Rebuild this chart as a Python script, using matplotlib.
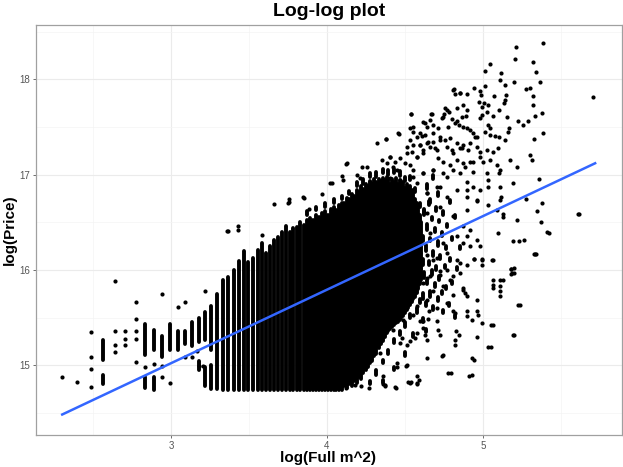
import numpy as np
import matplotlib
matplotlib.use("Agg")
from matplotlib import pyplot as plt

plt.rcParams['font.family'] = ['Liberation Sans', 'DejaVu Sans']

# vertical runs of stacked points: floor area (m^2), lowest and highest log(price)
run_area = [13, 13, 17, 17, 18, 18, 19, 20, 21, 22, 23, 24, 24, 25, 25, 26, 26,
            27, 28, 29, 30, 31, 32, 33, 34, 35, 36, 37, 38, 39, 40,
            41, 42, 43, 44, 45, 46, 47, 48, 49, 50, 51, 52, 53, 54, 55, 56,
            57, 58, 59, 60, 61, 62, 63, 64, 65, 66, 67, 68, 69, 70, 71, 72,
            73, 74, 75, 76, 77, 78, 79, 80, 81, 82, 83, 84, 85, 86, 87, 88,
            89, 90, 91, 92, 93, 94, 95, 96, 97, 98, 99, 100]
run_lo = [15.06, 14.81, 15.11, 14.76, 15.16, 14.74, 15.09, 15.16, 15.16, 15.22,
          15.20, 15.25, 14.95, 15.27, 14.78, 15.16, 14.75,
          14.75, 14.74, 14.74, 14.74, 14.74, 14.74, 14.74, 14.74, 14.74, 14.74,
          14.74, 14.74, 14.74, 14.74,
          14.74, 14.74, 14.74, 14.74, 14.74, 14.74, 14.74, 14.74, 14.74, 14.74,
          14.74, 14.74, 14.74, 14.74, 14.74, 14.74, 14.74, 14.74, 14.74, 14.74,
          14.78, 14.76, 14.80, 14.78, 14.84, 14.82, 14.88, 14.86, 14.92, 14.95,
          14.98, 15.02, 15.05, 15.10, 15.12, 15.18, 15.22, 15.26, 15.30, 15.34,
          15.36, 15.38, 15.40, 15.42, 15.44, 15.46, 15.48, 15.50, 15.52, 15.55,
          15.58, 15.60, 15.63, 15.66, 15.70, 15.72, 15.76, 15.80, 15.85, 15.90]
run_hi = [15.27, 14.90, 15.43, 14.88, 15.37, 14.88, 15.31, 15.43, 15.36, 15.36,
          15.45, 15.50, 15.05, 15.56, 14.98, 15.62, 15.00,
          15.75, 15.90, 15.93, 16.00, 16.10, 16.20, 16.08, 16.13, 16.21, 16.28,
          16.18, 16.25, 16.32, 16.35,
          16.40, 16.46, 16.40, 16.44, 16.45, 16.50, 16.47, 16.52, 16.55, 16.53,
          16.58, 16.56, 16.60, 16.62, 16.58, 16.64, 16.66, 16.63, 16.68, 16.70,
          16.70, 16.76, 16.74, 16.80, 16.78, 16.84, 16.82, 16.88, 16.85, 16.90,
          16.88, 16.93, 16.90, 16.95, 16.92, 16.96, 16.93, 16.97, 16.94, 16.98,
          16.95, 16.90, 16.96, 16.92, 16.97, 16.90, 16.94, 16.88, 16.92, 16.86,
          16.90, 16.84, 16.88, 16.80, 16.84, 16.75, 16.70, 16.65, 16.58, 16.50]

# short streaks (two or three stacked points) in the speckled fringe
streak_area = [48, 51, 54, 57, 60, 63, 66, 69, 72, 75, 78, 81, 84, 87, 90, 93,
               96, 99, 102, 104, 106, 108, 111,
               101, 101, 101, 102, 102, 103, 103, 104, 104, 105, 105, 106, 106,
               107, 107, 108, 108, 109, 109, 110, 110, 111, 111, 112, 112, 113,
               114, 114, 115, 115, 116, 117, 117, 118, 119, 120, 120, 122, 122,
               124, 124, 126, 128,
               72, 75, 78, 78, 81, 84, 84, 87, 90, 90, 93, 95, 97, 99, 101, 103]
streak_lo = [16.58, 16.63, 16.66, 16.70, 16.74, 16.80, 16.88, 16.90, 16.98, 16.98,
             17.02, 17.00, 17.02, 16.99, 16.93, 16.94, 16.82, 16.66, 16.58, 16.85,
             16.70, 16.95, 16.78,
             16.05, 16.30, 15.70, 16.60, 15.92, 16.20, 15.62, 16.42, 15.85, 16.05,
             16.68, 15.72, 16.30, 16.52, 15.95, 16.15, 15.58, 16.40, 15.82, 16.00,
             16.62, 15.68, 16.25, 16.50, 15.90, 16.12, 15.75, 16.36, 15.55, 16.58,
             16.02, 16.22, 15.80, 16.45, 15.62, 16.10, 16.70, 15.85, 16.32, 16.55,
             15.50, 16.00, 16.22,
             14.80, 14.90, 15.02, 14.82, 15.12, 15.24, 14.95, 15.32, 15.40, 15.10,
             15.50, 15.30, 15.55, 15.65, 15.45, 15.35]
streak_hi = [16.62, 16.66, 16.70, 16.74, 16.78, 16.83, 16.92, 16.95, 17.02, 17.03,
             17.06, 17.05, 17.06, 17.04, 16.98, 16.99, 16.86, 16.70, 16.62, 16.90,
             16.74, 17.00, 16.82,
             16.12, 16.36, 15.76, 16.64, 15.98, 16.26, 15.66, 16.48, 15.90, 16.10,
             16.72, 15.78, 16.34, 16.56, 16.00, 16.20, 15.62, 16.44, 15.86, 16.04,
             16.66, 15.72, 16.30, 16.53, 15.94, 16.16, 15.78, 16.40, 15.58, 16.62,
             16.05, 16.25, 15.83, 16.48, 15.65, 16.13, 16.73, 15.88, 16.35, 16.58,
             15.53, 16.03, 16.25,
             14.84, 14.95, 15.06, 14.85, 15.16, 15.28, 14.98, 15.36, 15.45, 15.14,
             15.54, 15.34, 15.60, 15.70, 15.50, 15.38]

# single points, log(Full m^2) and log(Price)
pt_x = [2.303, 2.398, 2.485, 2.485, 2.485, 2.485, 2.639, 2.639, 2.639, 2.639,
        2.708, 2.708, 2.708, 2.773, 2.773, 2.773, 2.773, 2.773, 2.833, 2.890,
        2.944, 2.944, 2.944, 2.996, 3.045, 3.091, 3.091, 3.135, 3.219, 3.178,
        3.164, 3.207, 3.363, 3.431, 3.432, 3.360, 3.583, 3.662, 3.757, 3.757,
        3.752, 3.852, 3.844, 3.887, 3.966, 4.019, 4.030, 4.094, 4.105, 4.122,
        4.128, 4.190, 4.212, 4.223, 4.255, 4.276, 4.297, 4.319, 4.340, 4.351,
        4.379, 4.404, 4.404, 4.436, 4.447, 4.458, 4.468, 4.500, 4.511, 4.532,
        4.537, 4.543, 4.554, 4.554, 4.575, 4.596, 4.596, 4.618, 4.618, 4.628,
        4.639, 4.639, 4.650, 4.671, 4.682, 4.682, 4.693, 4.725, 4.725, 4.746,
        4.746, 4.757, 4.767, 4.778, 4.810, 4.810, 4.810, 4.821, 4.853, 4.863,
        4.863, 4.885, 4.895, 4.895, 4.917, 4.938, 4.949, 4.959,
        5.387, 5.212, 5.207, 5.319, 5.047, 5.338, 5.011, 5.116, 5.111, 5.368,
        5.201, 5.139, 5.011, 4.943, 4.981, 4.987, 4.814, 4.853, 4.823, 4.900,
        5.302, 5.274, 5.319, 5.073, 5.148, 5.141, 5.135, 4.977, 5.005, 5.030,
        4.992, 5.024, 4.870, 4.831, 5.321, 5.376, 5.105, 4.767, 4.784, 4.752,
        4.737, 4.667, 4.539, 4.891, 4.992, 4.981, 5.066, 5.034, 5.045, 5.152,
        5.334, 5.222, 5.259, 5.287, 4.802, 4.836, 4.849, 4.874, 4.900, 4.618,
        4.661, 4.682, 4.714, 4.534, 4.554, 4.462, 4.376, 5.169, 5.163, 4.917,
        4.938, 4.960, 5.013, 5.045, 5.077, 5.105, 5.141, 5.387, 5.329, 4.575,
        4.607, 4.628, 4.532, 4.554, 4.596, 4.639, 4.682, 4.725, 4.757, 4.789,
        4.831, 4.874, 4.799, 4.853, 4.906, 4.960, 4.981, 5.024, 5.066, 5.099,
        4.661, 4.703, 4.618, 4.575, 4.511, 4.468, 4.404, 4.383, 4.425, 4.981,
        5.002, 5.045, 5.088, 5.109, 5.173, 5.216, 5.302, 5.312, 4.714, 4.746,
        4.789, 4.831, 4.874, 4.917, 4.554, 4.618, 4.682, 4.767, 4.853, 4.938,
        5.024, 5.034, 5.030, 5.105, 5.109, 5.116, 5.195, 5.361, 4.896, 4.938,
        4.981, 4.896, 4.960, 5.034, 5.109, 5.088, 5.274, 5.381, 5.344, 5.372,
        5.408, 5.611, 5.703, 5.216, 5.190, 5.233, 5.263, 5.099, 5.334, 5.180,
        5.184, 5.131, 5.126, 5.066, 4.992, 4.943, 4.981, 4.960, 4.917, 4.874,
        4.896, 4.874,
        4.383, 4.447, 4.511, 4.575, 4.639, 4.703, 4.767, 4.831,
        4.383, 4.468, 4.554, 4.639, 4.725, 4.810, 4.896,
        4.404, 4.489, 4.575, 4.660, 4.746, 4.831, 4.917,
        4.425, 4.511, 4.596, 4.682, 4.767, 4.853,
        4.468, 4.554, 4.639, 4.725, 4.810,
        5.329, 5.060, 4.991, 4.991, 4.942, 5.179, 5.179, 5.130, 5.109, 5.066,
        5.066, 5.109, 5.109, 5.109, 5.066, 5.226, 5.190, 5.034, 5.049, 4.991,
        4.959, 4.927, 4.912, 4.778, 4.820, 4.827, 4.848, 4.746, 4.735, 4.639,
        4.579, 4.579, 4.521, 4.436, 4.361, 4.372, 4.506, 4.451, 4.446, 4.959,
        4.959, 4.970, 4.895, 4.895, 4.927, 4.885, 4.895, 4.874, 4.810, 4.820,
        4.654, 4.649, 4.703, 4.714, 4.639, 4.628, 4.724, 4.820, 4.596, 4.617,
        4.575, 4.564, 4.532, 4.511, 4.479, 4.468,
        4.446, 4.511, 4.575, 4.639, 4.703, 4.767, 4.831, 4.895,
        4.468, 4.532, 4.596, 4.660, 4.724, 4.788, 4.852,
        4.489, 4.553, 4.617, 4.681, 4.746, 4.810, 4.874,
        4.511, 4.575, 4.639, 4.703, 4.767,
        4.425, 4.489, 4.553, 4.617,
        4.297, 4.361, 4.425, 4.211, 4.276, 4.340, 4.169, 4.233, 4.083, 4.147,
        4.040, 4.105, 3.998, 4.062,
        4.120, 4.180, 4.220, 4.270, 4.360, 4.440, 4.530, 4.580, 4.590, 4.370,
        4.510, 4.537, 4.793, 4.928, 4.941, 5.049, 5.202, 5.235, 5.202, 5.197,
        5.343, 5.425, 5.616, 5.066]
pt_y = [14.88, 14.83, 15.35, 15.09, 14.96, 14.77, 15.88, 15.36, 15.21, 15.14,
        15.36, 15.28, 15.21, 15.67, 15.49, 15.36, 15.28, 15.04, 14.98, 15.01,
        15.75, 14.99, 14.88, 14.82, 15.61, 15.67, 15.09, 15.09, 15.78, 14.99,
        15.15, 14.99, 16.405, 16.457, 16.42, 16.41, 16.37, 16.695, 16.75, 16.71,
        16.70, 16.76, 16.761, 16.638, 16.796, 16.91, 16.91, 16.987, 16.946, 17.113,
        17.12, 16.998, 16.963, 17.078, 17.078, 16.928, 16.893, 17.33, 16.928, 17.155,
        17.37, 17.19, 16.963, 17.137, 17.05, 17.434, 16.946, 17.12, 17.295, 17.10,
        17.633, 17.242, 17.504, 16.98, 17.19, 17.434, 17.312, 17.26, 17.015, 17.546,
        17.504, 16.806, 17.347, 17.637, 17.434, 17.05, 17.277, 17.364, 16.876, 17.609,
        17.015, 17.70, 17.295, 17.504, 17.888, 17.225, 17.05, 17.54, 17.853, 17.609,
        17.277, 17.085, 17.678, 16.841, 17.33, 17.137, 17.40, 16.736,
        18.376, 18.335, 18.209, 18.184, 18.163, 18.08, 18.087, 18.062, 17.99, 17.975,
        17.975, 17.94, 17.93, 17.91, 17.88, 17.836, 17.90, 17.86, 17.85, 17.85,
        17.91, 17.895, 17.825, 17.825, 17.836, 17.783, 17.755, 17.766, 17.755, 17.73,
        17.706, 17.66, 17.73, 17.70, 17.73, 17.65, 17.678, 17.678, 17.657, 17.636,
        17.59, 17.633, 17.633, 17.615, 17.626, 17.59, 17.615, 17.52, 17.49, 17.60,
        17.615, 17.567, 17.52, 17.567, 17.58, 17.567, 17.52, 17.504, 17.486, 17.556,
        17.573, 17.52, 17.486, 17.486, 17.45, 17.427, 17.37, 17.486, 17.45, 17.47,
        17.434, 17.40, 17.45, 17.416, 17.406, 17.40, 17.364, 17.44, 17.37, 17.40,
        17.406, 17.416, 17.364, 17.312, 17.312, 17.33, 17.347, 17.40, 17.364, 17.38,
        17.33, 17.312, 17.26, 17.277, 17.26, 17.294, 17.242, 17.26, 17.242, 17.277,
        17.294, 17.26, 17.225, 17.19, 17.225, 17.172, 17.19, 17.12, 17.085, 17.19,
        17.137, 17.155, 17.10, 17.05, 17.155, 17.085, 17.207, 17.155, 17.172, 17.137,
        17.10, 17.155, 17.12, 17.137, 17.05, 17.015, 17.05, 16.98, 17.015, 17.033,
        17.015, 16.946, 16.876, 17.015, 16.876, 16.77, 16.91, 16.95, 16.928, 16.876,
        16.84, 16.77, 16.72, 16.684, 16.736, 16.632, 16.746, 16.708, 16.624, 16.50,
        16.404, 16.589, 17.81, 16.527, 16.303, 16.307, 16.317, 16.387, 16.17, 16.013,
        15.968, 16.589, 16.56, 16.108, 16.115, 16.115, 16.247, 16.317, 16.42, 16.457,
        16.352, 16.282,
        16.945, 16.876, 16.84, 16.91, 16.806, 16.876, 16.77, 16.84,
        16.666, 16.632, 16.701, 16.597, 16.666, 16.562, 16.632,
        16.422, 16.352, 16.457, 16.387, 16.282, 16.352, 16.247,
        16.143, 16.073, 16.178, 16.108, 16.003, 16.073,
        15.933, 15.968, 15.916, 15.95, 15.933,
        16.167, 16.108, 16.108, 16.055, 16.115, 16.014, 15.958, 15.898, 15.891, 15.891,
        15.839, 15.829, 15.776, 15.724, 15.811, 15.63, 15.322, 15.19, 15.424, 15.445,
        15.298, 15.078, 14.893, 14.921, 15.218, 15.357, 15.322, 15.113, 15.096, 15.078,
        14.886, 14.816, 14.827, 14.774, 14.886, 14.799, 14.998, 15.026, 14.984, 15.69,
        15.567, 15.532, 15.567, 15.514, 15.479, 15.759, 15.724, 15.794, 15.567, 15.549,
        15.567, 15.487, 15.462, 15.375, 15.270, 15.322, 15.322, 15.27, 15.462, 15.392,
        15.34, 15.288, 15.253, 15.218, 15.288, 15.235,
        16.143, 16.178, 16.108, 16.16, 16.125, 16.178, 16.108, 16.055,
        16.003, 15.951, 16.02, 15.933, 15.986, 15.898, 15.968,
        15.829, 15.794, 15.863, 15.776, 15.829, 15.741, 15.811,
        15.654, 15.619, 15.689, 15.602, 15.654,
        15.514, 15.479, 15.532, 15.462,
        15.34, 15.305, 15.375, 15.2, 15.165, 15.13, 15.06, 15.026, 14.956, 14.921,
        14.886, 14.851, 14.816, 14.799,
        14.76, 14.79, 14.78, 14.76, 14.80, 14.76, 14.82, 14.80, 14.85, 14.78,
        15.00, 14.83, 14.92, 14.90, 15.06, 15.19, 15.32, 15.63, 15.97, 16.02,
        16.17, 16.39, 16.59, 15.42]

# linear fit line, end points
fit_x = [2.303, 5.719]
fit_y = [14.485, 17.12]

fig = plt.figure(figsize=(6.23, 4.67), dpi=100)
ax = fig.add_axes([0.0578, 0.0685, 0.9398, 0.878])

for xs, lo, hi in [(run_area, run_lo, run_hi), (streak_area, streak_lo, streak_hi)]:
    lc = ax.vlines(np.log(xs), lo, hi, colors='black', linewidth=2.8, zorder=2)
    lc.set_capstyle('round')
ax.scatter(pt_x, pt_y, s=9, color='black', linewidths=0, zorder=2)
ax.plot(fit_x, fit_y, color='#3366FF', linewidth=1.8, zorder=3)

ax.set_xlim(2.135, 5.888)
ax.set_ylim(14.27, 18.57)
ax.set_xticks([3, 4, 5])
ax.set_yticks([15, 16, 17, 18])
ax.set_xticks([2.5, 3.5, 4.5, 5.5], minor=True)
ax.set_yticks([14.5, 15.5, 16.5, 17.5, 18.5], minor=True)
ax.grid(which='major', color='#EBEBEB', linewidth=0.8, zorder=0)
ax.grid(which='minor', color='#F4F4F4', linewidth=0.5, zorder=0)
ax.set_axisbelow(True)
ax.tick_params(which='major', length=2.5, width=0.6, color='#555555', pad=2,
               labelsize=7, labelcolor='#555555')
ax.tick_params(which='minor', length=0)
for s in ax.spines.values():
    s.set_color('#A0A0A0')
    s.set_linewidth(0.9)

fig.text(329 / 623, 1 - 12 / 467, 'Log-log plot', ha='center', va='center',
         fontsize=14, fontweight='bold')
fig.text(328 / 623, 1 - 458 / 467, 'log(Full m^2)', ha='center', va='center',
         fontsize=11, fontweight='bold')
fig.text(10 / 623, 1 - 230 / 467, 'log(Price)', ha='center', va='center',
         rotation=90, fontsize=11, fontweight='bold')

fig.savefig('out.png', dpi=100)
